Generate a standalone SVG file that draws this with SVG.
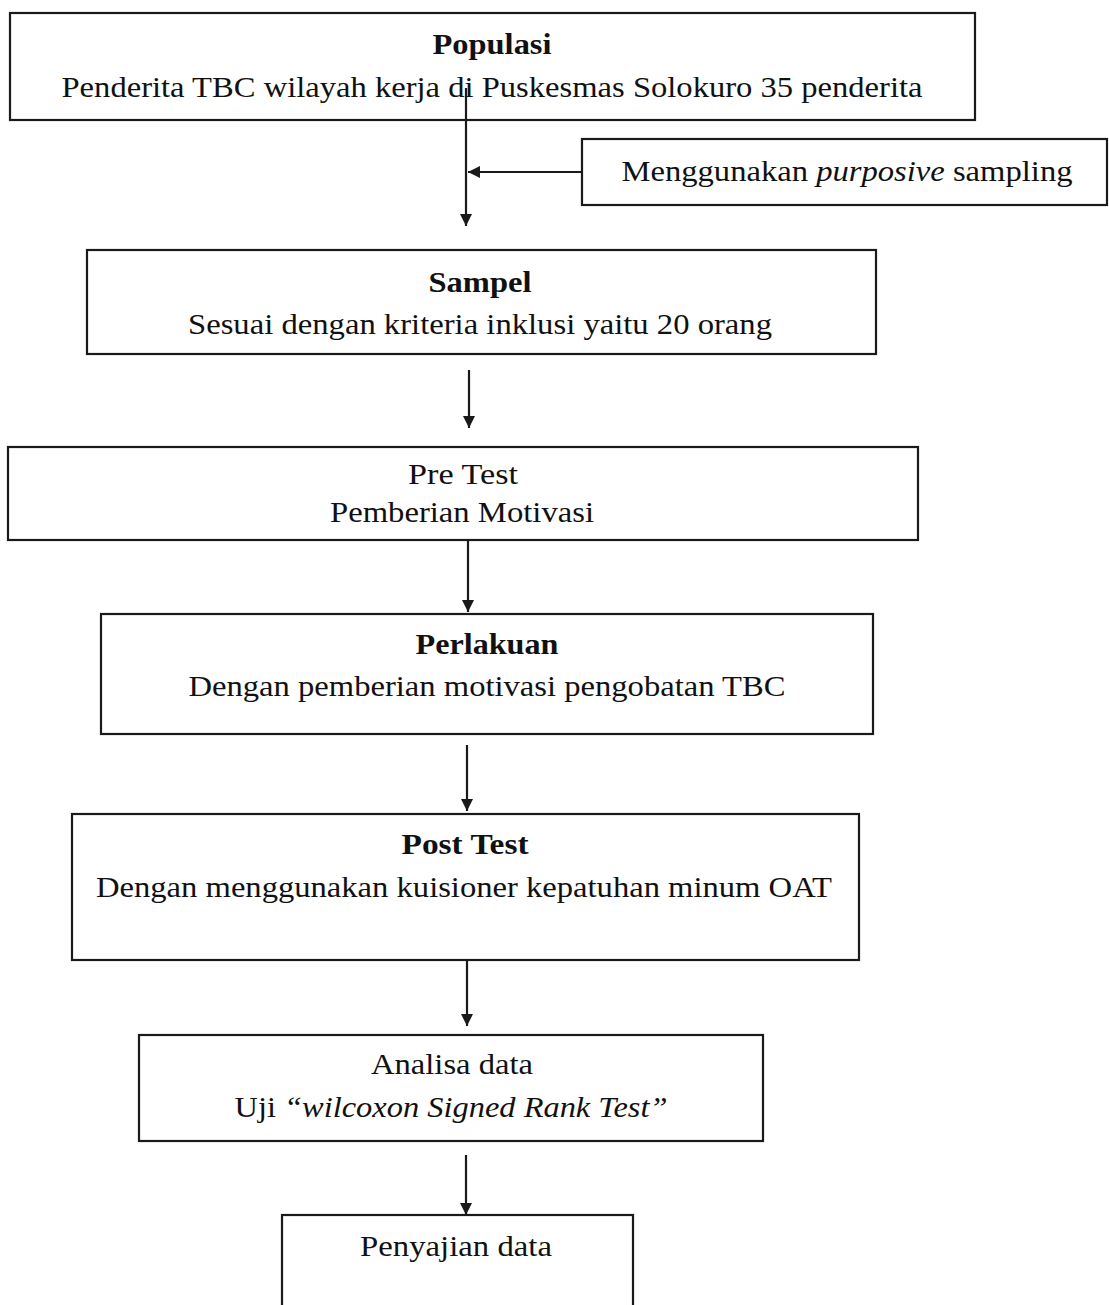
<svg xmlns="http://www.w3.org/2000/svg" width="1109" height="1305" viewBox="0 0 1109 1305">
<style>
.box{fill:none;stroke:#1a1a1a;stroke-width:2.2}
.t{font-family:"Liberation Serif","Times New Roman",Times,serif;font-size:30px;fill:#111;text-anchor:middle}
.b{font-weight:bold}
.c{stroke:#1a1a1a;stroke-width:2.2;fill:none}
</style>
<defs>
<marker id="ah" markerWidth="12" markerHeight="14" refX="12" refY="6" orient="auto" markerUnits="userSpaceOnUse">
<path d="M0,0 L12,6 L0,12 Z" fill="#1a1a1a"/>
</marker>
</defs>
<rect width="1109" height="1305" fill="#fff"/>
<g id="populasi">
<rect class="box" x="10" y="13" width="965" height="107"/>
<text class="t b" x="492" y="54" textLength="119" lengthAdjust="spacingAndGlyphs">Populasi</text>
<text class="t" x="492" y="97" textLength="861" lengthAdjust="spacingAndGlyphs">Penderita TBC wilayah kerja di Puskesmas Solokuro 35 penderita</text>
</g>
<g id="sampling">
<rect class="box" x="582" y="139" width="525" height="66"/>
<text class="t" x="847" y="181" textLength="451" lengthAdjust="spacingAndGlyphs">Menggunakan <tspan font-style="italic">purposive</tspan> sampling</text>
</g>
<g id="sampel">
<rect class="box" x="87" y="250" width="789" height="104"/>
<text class="t b" x="480" y="292" textLength="103" lengthAdjust="spacingAndGlyphs">Sampel</text>
<text class="t" x="480" y="334" textLength="584" lengthAdjust="spacingAndGlyphs">Sesuai dengan kriteria inklusi yaitu 20 orang</text>
</g>
<g id="pretest">
<rect class="box" x="8" y="447" width="910" height="93"/>
<text class="t" x="463" y="484" textLength="110" lengthAdjust="spacingAndGlyphs">Pre Test</text>
<text class="t" x="462" y="522" textLength="264" lengthAdjust="spacingAndGlyphs">Pemberian Motivasi</text>
</g>
<g id="perlakuan">
<rect class="box" x="101" y="614" width="772" height="120"/>
<text class="t b" x="487" y="654" textLength="143" lengthAdjust="spacingAndGlyphs">Perlakuan</text>
<text class="t" x="487" y="696" textLength="597" lengthAdjust="spacingAndGlyphs">Dengan pemberian motivasi pengobatan TBC</text>
</g>
<g id="posttest">
<rect class="box" x="72" y="814" width="787" height="146"/>
<text class="t b" x="465" y="854" textLength="127" lengthAdjust="spacingAndGlyphs">Post Test</text>
<text class="t" x="464" y="897" textLength="736" lengthAdjust="spacingAndGlyphs">Dengan menggunakan kuisioner kepatuhan minum OAT</text>
</g>
<g id="analisa">
<rect class="box" x="139" y="1035" width="624" height="106"/>
<text class="t" x="452" y="1074" textLength="162" lengthAdjust="spacingAndGlyphs">Analisa data</text>
<text class="t" x="451" y="1117" textLength="433" lengthAdjust="spacingAndGlyphs">Uji <tspan font-style="italic">“wilcoxon Signed Rank Test”</tspan></text>
</g>
<g id="penyajian">
<rect class="box" x="282" y="1215" width="351" height="100"/>
<text class="t" x="456" y="1256" textLength="192" lengthAdjust="spacingAndGlyphs">Penyajian data</text>
</g>
<g id="connectors">
<line class="c" x1="466" y1="88" x2="466" y2="226" marker-end="url(#ah)"/>
<line class="c" x1="582" y1="172" x2="468" y2="172" marker-end="url(#ah)"/>
<line class="c" x1="469" y1="370" x2="469" y2="428" marker-end="url(#ah)"/>
<line class="c" x1="468" y1="540" x2="468" y2="612" marker-end="url(#ah)"/>
<line class="c" x1="467" y1="745" x2="467" y2="811" marker-end="url(#ah)"/>
<line class="c" x1="467" y1="960" x2="467" y2="1026" marker-end="url(#ah)"/>
<line class="c" x1="466" y1="1155" x2="466" y2="1215" marker-end="url(#ah)"/>
</g>
</svg>
